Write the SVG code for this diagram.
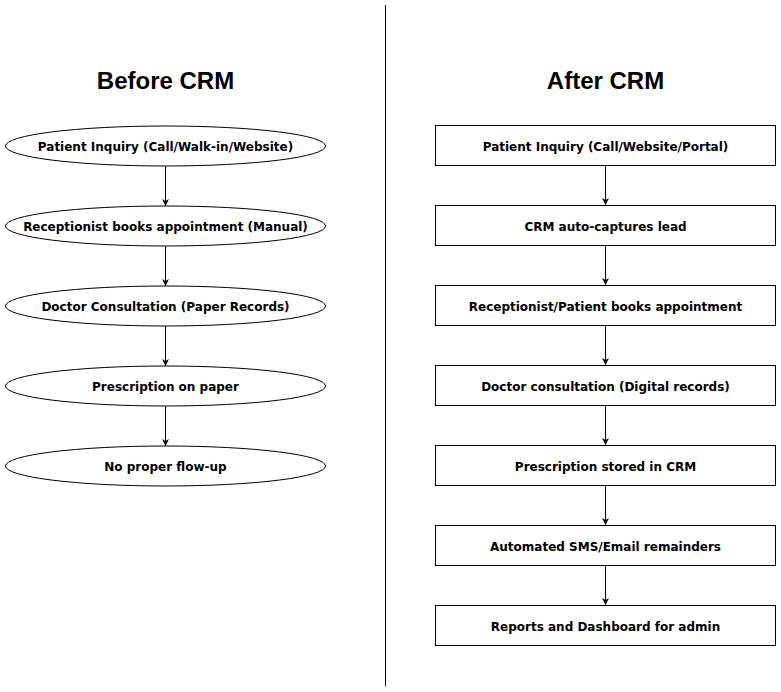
<svg xmlns="http://www.w3.org/2000/svg" width="781" height="692" viewBox="0 0 781 692">
<style>
.n{fill:#fff;stroke:#000;stroke-width:1}
.t{font-family:"DejaVu Sans",Verdana,sans-serif;font-weight:bold;font-size:12px;text-anchor:middle;fill:#000}
.h{font-family:"Liberation Sans",Arial,sans-serif;font-weight:bold;font-size:24px;text-anchor:middle;fill:#000}
.c{stroke:#000;stroke-width:1;fill:none;marker-end:url(#a)}
</style>
<defs>
<marker id="a" viewBox="0 0 10 10" refX="10" refY="5" markerWidth="7" markerHeight="7" markerUnits="userSpaceOnUse" orient="auto">
<path d="M0,0 L10,5 L0,10 L3,5 Z" fill="#000"/>
</marker>
</defs>
<rect width="781" height="692" fill="#fff"/>
<line x1="385.5" y1="5" x2="385.5" y2="686" stroke="#000" stroke-width="1"/>
<text class="h" x="165.5" y="89">Before CRM</text>
<text class="h" x="605.5" y="89">After CRM</text>
<g id="connectors">
<line class="c" x1="165.5" y1="166" x2="165.5" y2="206"/>
<line class="c" x1="165.5" y1="246" x2="165.5" y2="286"/>
<line class="c" x1="165.5" y1="326" x2="165.5" y2="366"/>
<line class="c" x1="165.5" y1="406" x2="165.5" y2="446"/>
<line class="c" x1="605.5" y1="165" x2="605.5" y2="205"/>
<line class="c" x1="605.5" y1="245" x2="605.5" y2="285"/>
<line class="c" x1="605.5" y1="325" x2="605.5" y2="365"/>
<line class="c" x1="605.5" y1="405" x2="605.5" y2="445"/>
<line class="c" x1="605.5" y1="485" x2="605.5" y2="525"/>
<line class="c" x1="605.5" y1="565" x2="605.5" y2="605"/>
</g>
<g id="b1"><ellipse class="n" cx="165.5" cy="146" rx="160" ry="20"/><text class="t" x="165.5" y="150.5">Patient Inquiry (Call/Walk-in/Website)</text></g>
<g id="b2"><ellipse class="n" cx="165.5" cy="226" rx="160" ry="20"/><text class="t" x="165.5" y="230.5">Receptionist books appointment (Manual)</text></g>
<g id="b3"><ellipse class="n" cx="165.5" cy="306" rx="160" ry="20"/><text class="t" x="165.5" y="310.5">Doctor Consultation (Paper Records)</text></g>
<g id="b4"><ellipse class="n" cx="165.5" cy="386" rx="160" ry="20"/><text class="t" x="165.5" y="390.5">Prescription on paper</text></g>
<g id="b5"><ellipse class="n" cx="165.5" cy="466" rx="160" ry="20"/><text class="t" x="165.5" y="470.5">No proper flow-up</text></g>
<g id="a1"><rect class="n" x="435.5" y="125.5" width="340" height="40"/><text class="t" x="605.5" y="150.5">Patient Inquiry (Call/Website/Portal)</text></g>
<g id="a2"><rect class="n" x="435.5" y="205.5" width="340" height="40"/><text class="t" x="605.5" y="230.5">CRM auto-captures lead</text></g>
<g id="a3"><rect class="n" x="435.5" y="285.5" width="340" height="40"/><text class="t" x="605.5" y="310.5">Receptionist/Patient books appointment</text></g>
<g id="a4"><rect class="n" x="435.5" y="365.5" width="340" height="40"/><text class="t" x="605.5" y="390.5">Doctor consultation (Digital records)</text></g>
<g id="a5"><rect class="n" x="435.5" y="445.5" width="340" height="40"/><text class="t" x="605.5" y="470.5">Prescription stored in CRM</text></g>
<g id="a6"><rect class="n" x="435.5" y="525.5" width="340" height="40"/><text class="t" x="605.5" y="550.5">Automated SMS/Email remainders</text></g>
<g id="a7"><rect class="n" x="435.5" y="605.5" width="340" height="40"/><text class="t" x="605.5" y="630.5">Reports and Dashboard for admin</text></g>
</svg>
